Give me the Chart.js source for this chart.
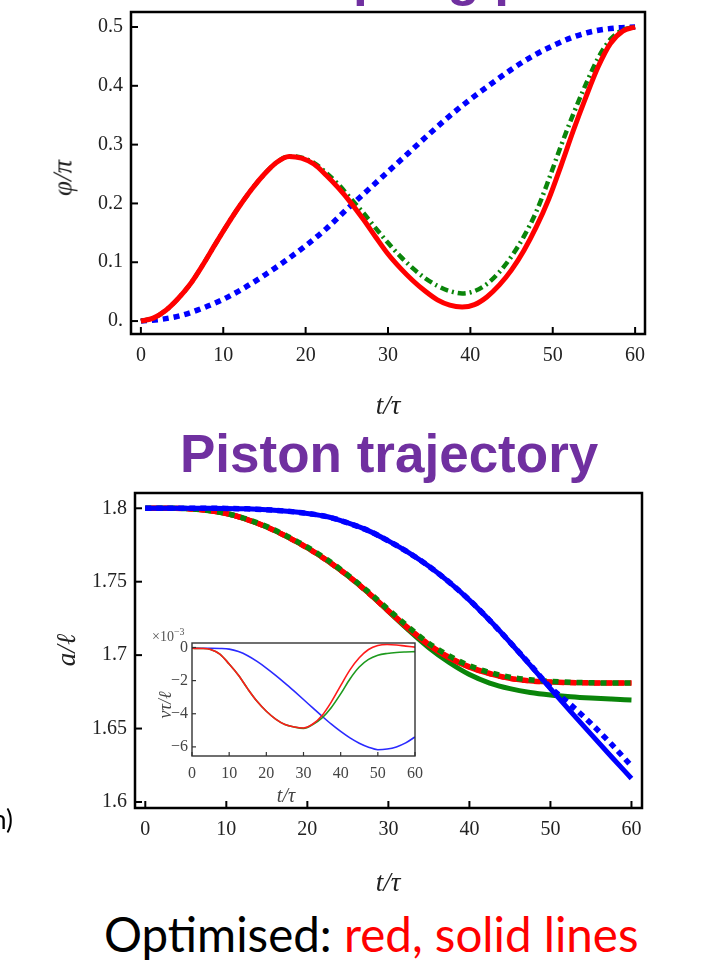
<!DOCTYPE html>
<html><head><meta charset="utf-8">
<script src="https://cdn.jsdelivr.net/npm/chart.js@4.4.1/dist/chart.umd.min.js"></script>
<style>
html,body{margin:0;padding:0;background:#fff;width:707px;height:963px;overflow:hidden;}
body{position:relative;}
.abs{position:absolute;white-space:nowrap;}
.title{font-family:"Liberation Sans",Arial,sans-serif;font-weight:bold;font-size:53px;line-height:53px;color:#7030A0;}
.math{font-family:"Liberation Serif",serif;font-style:italic;color:#222;line-height:1;}
.cen{transform:translate(-50%,-50%);}
.rot{transform:translate(-50%,-50%) rotate(-90deg);}
canvas{position:absolute;}
</style></head><body>

<div class="abs title" style="left:250px;top:-50px;">Coupling phase</div>
<div class="abs title" style="left:180px;top:427px;">Piston trajectory</div>

<canvas id="cTop" width="707" height="420" style="left:0;top:0;"></canvas>
<canvas id="cBot" width="707" height="420" style="left:0;top:480px;"></canvas>
<canvas id="cIns" width="290" height="190" style="left:140px;top:620px;"></canvas>

<div class="abs math rot" style="left:63px;top:178px;font-size:27px;">φ/π</div>
<div class="abs math cen" style="left:388px;top:405px;font-size:27px;">t/τ</div>
<div class="abs math rot" style="left:66px;top:650px;font-size:27px;">a/ℓ</div>
<div class="abs math cen" style="left:388px;top:882px;font-size:27px;">t/τ</div>
<div class="abs math rot" style="left:165px;top:705px;font-size:18px;color:#444;">vτ/ℓ</div>
<div class="abs math cen" style="left:286px;top:795px;font-size:20px;color:#444;">t/τ</div>
<div class="abs" style="left:152px;top:627px;font-family:'Liberation Serif',serif;font-size:14px;color:#555;line-height:1;">×10<sup style="font-size:10px;">−3</sup></div>

<div class="abs" style="left:-8px;top:806px;font-family:Lato,sans-serif;font-size:26px;line-height:26px;color:#000;">n)</div>
<div class="abs" style="left:104px;top:910px;font-family:Lato,sans-serif;font-size:47.5px;line-height:47px;color:#000;">Optimised: <span style="color:#FF0000;">red, solid lines</span></div>

<script>
// ---------- top chart: phi/pi vs t/tau ----------
const topBlueT = [0,2.5,5,7.5,10,12.5,15,17.5,20,22.5,25,27.5,30,32.5,35,37.5,40,42.5,45,47.5,50,52.5,55,57.5,60];
const topBlueDotted = [0.000,0.003,0.010,0.022,0.037,0.056,0.078,0.102,0.128,0.157,0.190,0.222,0.254,0.286,0.318,0.349,0.377,0.403,0.428,0.450,0.468,0.483,0.493,0.498,0.500];
const topT = [0,1.5,3,4.5,6,7.5,9,10.5,12,13.5,15,16.5,18,19.5,21,22.5,24,25.5,27,28.5,30,31.5,33,34.5,36,37.5,39,40.5,42,43.5,45,46.5,48,49.5,51,52.5,54,55.5,57,58.5,60];
const topRedSolid = [0.000,0.005,0.018,0.038,0.063,0.095,0.130,0.164,0.196,0.225,0.250,0.270,0.280,0.277,0.267,0.248,0.226,0.201,0.173,0.143,0.114,0.090,0.069,0.051,0.036,0.027,0.024,0.028,0.041,0.061,0.087,0.120,0.160,0.207,0.264,0.324,0.380,0.432,0.472,0.493,0.500];
const topGreenDashDot = [0.000,0.005,0.018,0.038,0.063,0.095,0.130,0.164,0.196,0.225,0.250,0.270,0.280,0.278,0.269,0.252,0.232,0.208,0.184,0.158,0.133,0.110,0.090,0.073,0.060,0.051,0.047,0.051,0.063,0.083,0.110,0.144,0.186,0.240,0.298,0.352,0.402,0.447,0.479,0.495,0.500];
const topXTicks = [0,10,20,30,40,50,60];
const topYTicks = [0,0.1,0.2,0.3,0.4,0.5];
const topYLabels = ["0.","0.1","0.2","0.3","0.4","0.5"];

// ---------- bottom chart: a/l vs t/tau ----------
const botT = [0,2.5,5,7.5,10,12.5,15,17.5,20,22.5,25,27.5,30,32.5,35,37.5,40,42.5,45,47.5,50,52.5,55,57.5,60];
const botBlueSolid  = [1.8,1.8,1.8,1.8,1.7999,1.7996,1.799,1.798,1.7965,1.7942,1.7900,1.7848,1.7778,1.7698,1.7605,1.7497,1.7375,1.7237,1.7088,1.6932,1.6772,1.6615,1.6462,1.6310,1.6160];
const botBlueDotted = [1.8,1.8,1.8,1.8,1.7999,1.7996,1.799,1.798,1.7965,1.7942,1.7900,1.7848,1.7778,1.7698,1.7605,1.7497,1.7375,1.7237,1.7088,1.6935,1.6780,1.6662,1.6535,1.6395,1.6245];
const botRedSolid   = [1.8,1.8,1.7998,1.7987,1.7964,1.7925,1.7872,1.7806,1.7730,1.7642,1.7541,1.7426,1.7300,1.7178,1.7068,1.6980,1.6916,1.6872,1.6840,1.6823,1.6816,1.6812,1.6811,1.681,1.681];
const botRedDotted  = [1.8,1.8,1.7998,1.7987,1.7964,1.7925,1.7872,1.7806,1.7730,1.7642,1.7541,1.7426,1.7302,1.7182,1.7072,1.6985,1.6920,1.6875,1.6842,1.6825,1.6817,1.6813,1.6811,1.681,1.681];
const botGreenSolid = [1.8,1.8,1.7998,1.7987,1.7964,1.7925,1.7872,1.7806,1.7730,1.7642,1.7541,1.7426,1.7298,1.7170,1.7050,1.6950,1.6868,1.6810,1.6772,1.6746,1.6729,1.6717,1.6708,1.6701,1.6695];
const botGreenDotted= [1.8,1.8,1.7998,1.7987,1.7965,1.7927,1.7875,1.7810,1.7735,1.7648,1.7545,1.7432,1.7310,1.7190,1.7080,1.6995,1.6928,1.6882,1.6850,1.6832,1.6822,1.6815,1.6812,1.681,1.681];
const botXTicks = [0,10,20,30,40,50,60];
const botYTicks = [1.6,1.65,1.7,1.75,1.8];
const botYLabels = ["1.6","1.65","1.7","1.75","1.8"];

// ---------- inset: v tau / l (x 10^-3) ----------
const insT = [0,2.5,5,7.5,10,12.5,15,17.5,20,22.5,25,27.5,30,32.5,35,37.5,40,42.5,45,47.5,50,52.5,55,57.5,60];
const insRed   = [-0.05,-0.06,-0.12,-0.40,-1.00,-1.68,-2.50,-3.25,-3.85,-4.32,-4.65,-4.80,-4.86,-4.62,-4.10,-3.28,-2.30,-1.35,-0.62,-0.12,0.12,0.18,0.15,0.08,0.02];
const insGreen = [-0.05,-0.06,-0.12,-0.40,-1.00,-1.68,-2.50,-3.25,-3.85,-4.32,-4.65,-4.80,-4.88,-4.65,-4.25,-3.62,-2.80,-1.90,-1.18,-0.72,-0.47,-0.36,-0.30,-0.27,-0.25];
const insBlue  = [-0.05,-0.05,-0.05,-0.06,-0.10,-0.25,-0.50,-0.84,-1.24,-1.68,-2.15,-2.64,-3.14,-3.65,-4.15,-4.63,-5.07,-5.46,-5.78,-6.02,-6.17,-6.13,-6.00,-5.76,-5.40];
const insXTicks = [0,10,20,30,40,50,60];
const insYTicks = [0,-2,-4,-6];
const insYLabels = ["0","\u22122","\u22124","\u22126"];

// ---------- helpers ----------
const pts = (T, V) => T.map((t,i) => ({x:t, y:V[i]}));
const framePlugin = {
  id: 'frame',
  beforeDatasetsDraw(chart, args, o) {
    if (!o.fill) return;
    const a = chart.chartArea, c = chart.ctx;
    c.save(); c.fillStyle = o.fill; c.fillRect(a.left, a.top, a.right - a.left, a.bottom - a.top); c.restore();
  },
  afterDraw(chart, args, o) {
    const c = chart.ctx, a = chart.chartArea, xs = chart.scales.x, ys = chart.scales.y;
    c.save();
    c.strokeStyle = o.color; c.lineWidth = o.tickWidth; c.lineCap = 'butt';
    xs.ticks.forEach(t => { const p = xs.getPixelForValue(t.value); c.beginPath(); c.moveTo(p, a.bottom); c.lineTo(p, a.bottom - o.tickLen); c.stroke(); });
    ys.ticks.forEach(t => { const p = ys.getPixelForValue(t.value); c.beginPath(); c.moveTo(a.left, p); c.lineTo(a.left + o.tickLen, p); c.stroke(); });
    c.lineWidth = o.width;
    c.strokeRect(a.left, a.top, a.right - a.left, a.bottom - a.top);
    c.restore();
  }
};

function makeScales(cfg) {
  const font = {family: "'Liberation Serif', serif", size: cfg.fs};
  return {
    x: {
      type: 'linear', min: cfg.xmin, max: cfg.xmax,
      grid: {display: false, drawTicks: false, tickLength: 0}, border: {display: false},
      afterBuildTicks: s => { s.ticks = cfg.xTicks.map(v => ({value: v})); },
      afterFit: s => { s.height = cfg.xh; s.paddingLeft = 0; s.paddingRight = 0; s.paddingTop = 0; s.paddingBottom = 0; },
      ticks: {font: font, color: cfg.tc, padding: cfg.xpad, maxRotation: 0, minRotation: 0, autoSkip: false,
              callback: (v, i) => String(cfg.xTicks[i])}
    },
    y: {
      type: 'linear', min: cfg.ymin, max: cfg.ymax,
      grid: {display: false, drawTicks: false, tickLength: 0}, border: {display: false},
      afterBuildTicks: s => { s.ticks = cfg.yTicks.map(v => ({value: v})); },
      afterFit: s => { s.width = cfg.yw; s.paddingTop = 0; s.paddingBottom = 0; s.paddingLeft = 0; s.paddingRight = 0; },
      ticks: {font: font, color: cfg.tc, padding: cfg.ypad, autoSkip: false,
              callback: (v, i) => cfg.yLabels[i]}
    }
  };
}
const baseOpts = (pad, scales, frame) => ({
  responsive: false, animation: false, events: [],
  layout: {padding: pad},
  elements: {point: {radius: 0}, line: {cubicInterpolationMode: 'monotone', borderCapStyle: 'butt', borderJoinStyle: 'round'}},
  plugins: {legend: {display: false}, tooltip: {enabled: false}, frame: frame},
  scales: scales
});

// top chart
new Chart(document.getElementById('cTop'), {
  type: 'line',
  data: {datasets: [
    {data: pts(topT, topRedSolid), borderColor: '#FF0000', borderWidth: 5, order: 0},
    {data: pts(topT, topGreenDashDot), borderColor: '#0A850A', borderWidth: 4.5, borderDash: [8,4,2,4], order: 1},
    {data: pts(topBlueT, topBlueDotted), borderColor: '#0000FF', borderWidth: 5.5, borderDash: [6,5], order: 2}
  ]},
  options: baseOpts({top: 12, right: 62, left: 0, bottom: 0},
    makeScales({xmin: -1.2, xmax: 61.2, ymin: -0.022, ymax: 0.5255, xTicks: topXTicks, yTicks: topYTicks, yLabels: topYLabels,
                xh: 86, yw: 131, fs: 20, tc: '#222', xpad: 10, ypad: 8}),
    {color: '#000', width: 2.5, tickWidth: 2, tickLen: 7}),
  plugins: [framePlugin]
});

// bottom chart
new Chart(document.getElementById('cBot'), {
  type: 'line',
  data: {datasets: [
    {data: pts(botT, botBlueDotted), borderColor: '#0000FF', borderWidth: 5.5, borderDash: [6,5], order: 0},
    {data: pts(botT, botBlueSolid), borderColor: '#0000FF', borderWidth: 5, order: 1},
    {data: pts(botT, botGreenDotted), borderColor: '#0A850A', borderWidth: 5.5, borderDash: [6,6], order: 2},
    {data: pts(botT, botRedDotted), borderColor: '#FF0000', borderWidth: 5.5, borderDash: [6,6], borderDashOffset: 6, order: 3},
    {data: pts(botT, botRedSolid), borderColor: '#FF0000', borderWidth: 5, order: 4},
    {data: pts(botT, botGreenSolid), borderColor: '#0A850A', borderWidth: 5, order: 5}
  ]},
  options: baseOpts({top: 13, right: 65, left: 0, bottom: 0},
    makeScales({xmin: -1.27, xmax: 61.3, ymin: 1.5959, ymax: 1.8104, xTicks: botXTicks, yTicks: botYTicks, yLabels: botYLabels,
                xh: 92, yw: 135, fs: 20, tc: '#222', xpad: 10, ypad: 8}),
    {color: '#000', width: 2.5, tickWidth: 2, tickLen: 7}),
  plugins: [framePlugin]
});

// inset chart
new Chart(document.getElementById('cIns'), {
  type: 'line',
  data: {datasets: [
    {data: pts(insT, insRed), borderColor: '#FF1A1A', borderWidth: 1.6, order: 0},
    {data: pts(insT, insGreen), borderColor: '#1E9A1E', borderWidth: 1.6, order: 1},
    {data: pts(insT, insBlue), borderColor: '#2A2AFF', borderWidth: 1.6, order: 2}
  ]},
  options: baseOpts({top: 23, right: 15, left: 0, bottom: 0},
    makeScales({xmin: 0, xmax: 60, ymin: -6.55, ymax: 0.27, xTicks: insXTicks, yTicks: insYTicks, yLabels: insYLabels,
                xh: 54, yw: 52, fs: 16, tc: '#444', xpad: 8, ypad: 4}),
    {color: '#333', width: 1.4, tickWidth: 1.2, tickLen: 4, fill: '#fff'}),
  plugins: [framePlugin]
});
</script>
</body></html>
